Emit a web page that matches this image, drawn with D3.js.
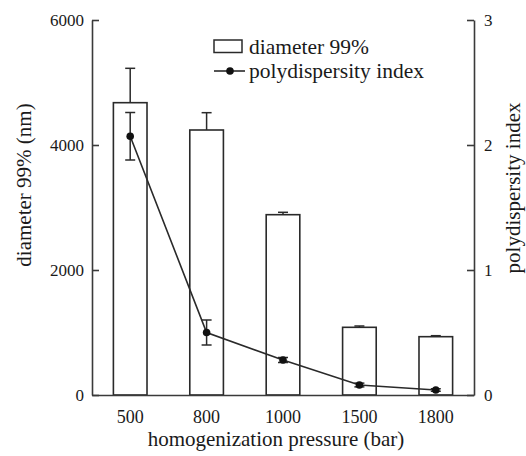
<!DOCTYPE html>
<html>
<head>
<meta charset="utf-8">
<script src="https://cdn.jsdelivr.net/npm/d3@7"></script>
<style>
  html, body { margin: 0; padding: 0; background: #fff; }
  svg text { font-family: "Liberation Serif", "Times New Roman", Times, "DejaVu Serif", "Noto Serif", serif; fill: #1a1a1a; }
</style>
</head>
<body>
<div id="chart"></div>
<script>
const pressures = ["500", "800", "1000", "1500", "1800"];
const diameter99 = [4677, 4240, 2885, 1083, 933];
const diameterErr = [550, 277, 38, 21, 16];
const pdi = [2.07, 0.50, 0.28, 0.08, 0.04];
const pdiErr = [0.19, 0.10, 0.02, 0.015, 0.01];
const leftTicks = [0, 2000, 4000, 6000];
const rightTicks = [0, 1, 2, 3];

const WIDTH = 526;
const HEIGHT = 456;
const MARGIN = { top: 20, right: 52, bottom: 61, left: 92 };
const INK = "#2a2a2a";
const SERIF = "'Liberation Serif', 'Times New Roman', Times, 'DejaVu Serif', serif";

const svg = d3.select("#chart").append("svg")
  .attr("width", WIDTH)
  .attr("height", HEIGHT)
  .attr("font-family", SERIF);

const plotW = WIDTH - MARGIN.left - MARGIN.right;
const plotH = HEIGHT - MARGIN.top - MARGIN.bottom;

const g = svg.append("g")
  .attr("transform", `translate(${MARGIN.left},${MARGIN.top})`);

const x = d3.scaleBand()
  .domain(pressures)
  .range([0, plotW])
  .paddingInner(0.56)
  .paddingOuter(0.28);

const yLeft = d3.scaleLinear().domain([0, 6000]).range([plotH, 0]);
const yRight = d3.scaleLinear().domain([0, 3]).range([plotH, 0]);

// bars
g.selectAll(".bar")
  .data(pressures)
  .enter()
  .append("rect")
  .attr("class", "bar")
  .attr("x", d => x(d))
  .attr("width", x.bandwidth())
  .attr("y", (d, i) => yLeft(diameter99[i]))
  .attr("height", (d, i) => plotH - yLeft(diameter99[i]))
  .attr("fill", "#fff")
  .attr("stroke", INK)
  .attr("stroke-width", 1.6);

// bar error bars (upper only)
const cap = 5;
pressures.forEach((p, i) => {
  const cx = x(p) + x.bandwidth() / 2;
  const top = yLeft(diameter99[i] + diameterErr[i]);
  const base = yLeft(diameter99[i]);
  g.append("line")
    .attr("x1", cx).attr("x2", cx).attr("y1", base).attr("y2", top)
    .attr("stroke", INK).attr("stroke-width", 1.5);
  g.append("line")
    .attr("x1", cx - cap).attr("x2", cx + cap).attr("y1", top).attr("y2", top)
    .attr("stroke", INK).attr("stroke-width", 1.5);
});

// pdi line
const line = d3.line()
  .x((d, i) => x(pressures[i]) + x.bandwidth() / 2)
  .y(d => yRight(d));

g.append("path")
  .datum(pdi)
  .attr("fill", "none")
  .attr("stroke", INK)
  .attr("stroke-width", 1.6)
  .attr("d", line);

pdi.forEach((v, i) => {
  const cx = x(pressures[i]) + x.bandwidth() / 2;
  const hi = yRight(v + pdiErr[i]);
  const lo = yRight(v - pdiErr[i]);
  g.append("line")
    .attr("x1", cx).attr("x2", cx).attr("y1", lo).attr("y2", hi)
    .attr("stroke", INK).attr("stroke-width", 1.5);
  [hi, lo].forEach(yy => {
    g.append("line")
      .attr("x1", cx - cap).attr("x2", cx + cap).attr("y1", yy).attr("y2", yy)
      .attr("stroke", INK).attr("stroke-width", 1.5);
  });
});

g.selectAll(".point")
  .data(pdi)
  .enter()
  .append("circle")
  .attr("class", "point")
  .attr("cx", (d, i) => x(pressures[i]) + x.bandwidth() / 2)
  .attr("cy", d => yRight(d))
  .attr("r", 3.8)
  .attr("fill", "#111");

// axes
const axisLeft = g.append("g")
  .call(d3.axisLeft(yLeft).tickValues(leftTicks).tickSize(-7).tickSizeOuter(0).tickPadding(8).tickFormat(d3.format("d")));

const axisRight = g.append("g")
  .attr("transform", `translate(${plotW},0)`)
  .call(d3.axisRight(yRight).tickValues(rightTicks).tickSize(-7).tickSizeOuter(0).tickPadding(10).tickFormat(d3.format("d")));

const axisBottom = g.append("g")
  .attr("transform", `translate(0,${plotH})`)
  .call(d3.axisBottom(x).tickSize(0).tickSizeOuter(0).tickPadding(15));

[axisLeft, axisRight, axisBottom].forEach(ax => {
  ax.attr("font-family", SERIF);
  ax.selectAll("path, line").attr("stroke", "#3a3a3a").attr("stroke-width", 1.6);
  ax.selectAll("text").attr("fill", "#1a1a1a");
});
axisLeft.attr("font-size", 17);
axisRight.attr("font-size", 17);
axisBottom.attr("font-size", 18);

// axis titles
svg.append("text")
  .attr("x", 276)
  .attr("y", 446)
  .attr("text-anchor", "middle")
  .attr("font-size", 21)
  .text("homogenization pressure (bar)");

svg.append("text")
  .attr("transform", "translate(31,185) rotate(-90)")
  .attr("text-anchor", "middle")
  .attr("font-size", 21)
  .text("diameter 99% (nm)");

svg.append("text")
  .attr("transform", "translate(520,188) rotate(-90)")
  .attr("text-anchor", "middle")
  .attr("font-size", 21)
  .text("polydispersity index");

// legend
const legend = svg.append("g");
legend.append("rect")
  .attr("x", 214).attr("y", 40).attr("width", 28).attr("height", 12.5)
  .attr("fill", "#fff").attr("stroke", INK).attr("stroke-width", 1.5);
legend.append("text")
  .attr("x", 249).attr("y", 54)
  .attr("font-size", 21.5)
  .text("diameter 99%");
legend.append("line")
  .attr("x1", 214).attr("x2", 245).attr("y1", 71).attr("y2", 71)
  .attr("stroke", INK).attr("stroke-width", 1.6);
legend.append("circle")
  .attr("cx", 230).attr("cy", 71).attr("r", 3.8).attr("fill", "#111");
legend.append("text")
  .attr("x", 249).attr("y", 78)
  .attr("font-size", 21.5)
  .text("polydispersity index");
</script>
</body>
</html>
